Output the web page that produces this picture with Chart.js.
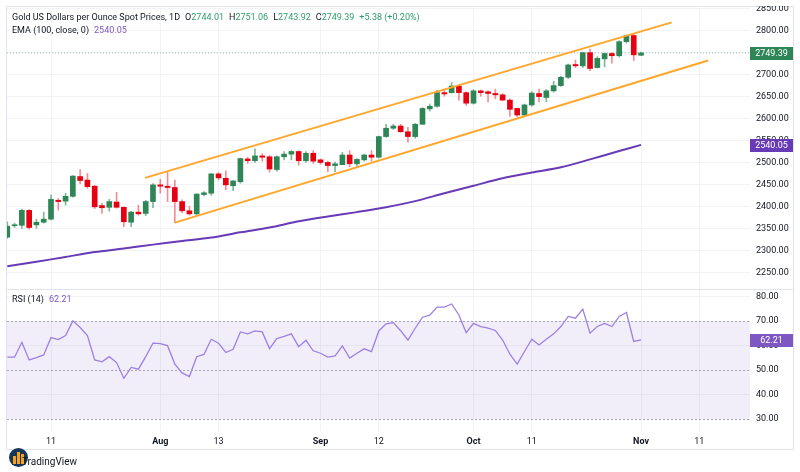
<!DOCTYPE html>
<html>
<head>
<meta charset="utf-8">
<script src="https://cdn.jsdelivr.net/npm/chart.js@4.4.1/dist/chart.umd.min.js"></script>
<style>
  body { margin: 0; background: #fff; font-family: Roboto, sans-serif; }
  #wrap { position: relative; width: 800px; height: 472px; overflow: hidden; }
  #frame { position: absolute; left: 6px; top: 6px; width: 786px; height: 442px; border: 1px solid #e0e3eb; }
  #sep { position: absolute; left: 6px; top: 289px; width: 787px; height: 1px; background: #e0e3eb; }
  canvas { position: absolute; left: 0; }
  #priceChart { top: 6px; }
  #rsiChart { top: 289px; }
  .hdr { position: absolute; left: 12px; font-size: 9px; color: #131722; white-space: nowrap; }
  .g { color: #2e9e6a; }
  .p { color: #7e57c2; }
  .gap { margin-left: 5px; }
  #logo { position: absolute; left: 9px; top: 448px; width: 19px; height: 19px; border-radius: 50%; background: #14375c; overflow: hidden; }
  #logo i { position: absolute; bottom: 3px; width: 3px; background: #f7a21b; }
  #tv { position: absolute; left: 22px; top: 456px; font-size: 10px; color: #131722; }
</style>
</head>
<body>
<div id="wrap">
  <div id="frame"></div>
  <canvas id="priceChart" width="800" height="283"></canvas>
  <canvas id="rsiChart" width="800" height="160"></canvas>
  <div id="sep"></div>
  <div class="hdr" style="top:12px">Gold US Dollars per Ounce Spot Prices, 1D<span class="gap">O</span><span class="g">2744.01</span><span class="gap">H</span><span class="g">2751.06</span><span class="gap">L</span><span class="g">2743.92</span><span class="gap">C</span><span class="g">2749.39</span><span class="g gap">+5.38 (+0.20%)</span></div>
  <div class="hdr" style="top:25px">EMA (100, close, 0)<span class="p gap">2540.05</span></div>
  <div class="hdr" style="top:294px">RSI (14)<span class="p gap">62.21</span></div>
  <div id="logo"><i style="left:4px;height:8px"></i><i style="left:8px;height:12px"></i><i style="left:12px;height:10px"></i></div>
  <div id="tv">TradingView</div>
</div>
<script>
// daily candles, bar 0 = early July, bar 87 = Nov 1
const opens = [2330,2356,2357,2391,2358,2364,2371,2414,2412,2423,
  2468,2460,2446,2402,2398,2410,2398,2364,2387,2384,
  2411,2449,2446,2443,2411,2390,2383,2427,2430,2474,
  2464,2447,2456,2508,2504,2515,2513,2484,2513,2519,
  2525,2504,2521,2506,2500,2493,2495,2517,2497,2506,
  2517,2512,2559,2578,2583,2570,2559,2587,2622,2628,
  2659,2659,2674,2659,2635,2663,2661,2657,2654,2642,
  2623,2608,2631,2657,2648,2663,2675,2694,2723,2720,
  2750,2716,2736,2748,2743,2775,2789,2744.01];
const closes = [2355,2358,2391,2352,2364,2371,2416,2411,2423,2469,
  2459,2445,2399,2397,2411,2398,2365,2387,2383,2411,
  2449,2446,2443,2411,2390,2383,2428,2431,2474,2465,
  2449,2458,2509,2504,2515,2512,2485,2513,2519,2525,
  2504,2521,2503,2500,2493,2497,2517,2497,2507,2517,
  2512,2559,2578,2583,2570,2559,2587,2623,2628,2659,
  2656,2674,2659,2635,2663,2659,2657,2654,2642,2621,
  2608,2631,2658,2650,2663,2675,2694,2722,2720,2750,
  2714,2737,2748,2743,2775,2789,2745,2749.39];
const highs = [2365,2362,2394,2393,2371,2387,2426,2418,2430,2470,
  2484,2475,2448,2407,2416,2432,2399,2389,2403,2414,
  2452,2462,2479,2460,2415,2400,2429,2434,2475,2477,
  2481,2459,2510,2512,2531,2520,2516,2515,2525,2527,
  2527,2525,2527,2508,2503,2501,2523,2527,2509,2519,
  2527,2560,2587,2587,2587,2580,2589,2625,2633,2664,
  2666,2682,2676,2661,2666,2665,2663,2667,2657,2645,
  2624,2633,2661,2667,2666,2685,2696,2724,2733,2751,
  2758,2741,2749,2750,2777,2790,2792,2751.06];
const lows = [2327,2352,2350,2348,2350,2362,2369,2392,2403,2421,
  2452,2441,2395,2384,2389,2396,2354,2354,2380,2379,
  2397,2430,2411,2363,2386,2380,2381,2424,2425,2460,
  2438,2436,2453,2498,2500,2503,2478,2480,2506,2506,
  2494,2500,2498,2496,2479,2479,2495,2490,2491,2503,
  2503,2510,2557,2575,2569,2546,2555,2586,2617,2626,
  2651,2658,2642,2630,2633,2651,2638,2645,2641,2605,
  2604,2606,2628,2638,2638,2660,2673,2691,2716,2716,
  2709,2715,2718,2726,2740,2772,2732,2743.92];

// EMA 100 read at a few bars
const emaIdx = [0,4,8,12,16,20,24,28,32,36,40,44,48,52,56,60,64,68,72,76,80,84,87];
const emaVal = [2264,2274,2285,2296,2304,2313,2321,2329,2341,2352,2366,2377,2387,2398,2412,2430,2447,2464,2477,2489,2507,2526,2540.05];

// channel lines (bar index, price)
const chanUpX = [18.9, 91.2];
const chanUpY = [2465, 2819];
const chanLoX = [23, 96.2];
const chanLoY = [2363, 2732];

const rsiVals = [55.2,55.2,61.3,54.1,55.0,56.1,63.2,62.4,64.0,70.0,
  67.3,64.0,54.1,53.3,55.4,53.0,46.6,51.0,50.3,55.4,
  60.9,60.7,59.9,52.4,48.8,47.3,55.4,56.3,62.5,60.9,
  57.1,58.4,65.5,64.7,65.9,65.5,58.7,62.8,63.7,64.7,
  59.5,62.1,57.8,56.8,55.2,55.7,59.8,54.8,56.8,58.6,
  57.5,65.9,68.8,69.3,66.0,62.2,67.0,71.5,72.3,75.6,
  75.6,76.9,72.4,65.2,69.0,67.7,67.0,66.1,62.2,56.4,
  52.4,57.5,62.5,60.2,62.5,64.7,67.7,71.8,71.1,74.8,
  65.0,67.7,69.0,67.7,71.8,73.4,61.6,62.21];
const rsiLevels = [70, 50, 30];

// axis ticks
const tickIdx = [6, 21, 29, 43, 51, 64, 72, 87, 95];
const tickText = ['11', 'Aug', '13', 'Sep', '12', 'Oct', '11', 'Nov', '11'];
const priceTicks = [2250, 2300, 2350, 2400, 2450, 2500, 2550, 2600, 2650, 2700, 2750, 2800, 2850];
const rsiTicks = [30, 40, 50, 60, 70, 80];

const lastPrice = 2749.39;
const lastEma = 2540.05;
const lastRsi = 62.21;

const UP = '#2e8555';
const DOWN = '#e60012';
const GRID = '#f2f3f6';
const TXT = '#131722';
const FONT = 'Roboto';
const xMin = -0.041, xMax = 101.96;

function xScale(showTicks) {
    return {
        type: 'linear', min: xMin, max: xMax, offset: false,
        grid: { color: GRID, drawTicks: false, offset: false },
        border: { display: false },
        ticks: {
            display: showTicks, autoSkip: false, maxRotation: 0, padding: 5, color: TXT,
            font: ctx => ({ family: FONT, size: 9, weight: /^[A-Z]/.test(tickText[ctx.index] || '') ? 'bold' : 'normal' }),
            callback: v => tickText[tickIdx.indexOf(v)]
        },
        afterBuildTicks: s => { s.ticks = tickIdx.map(v => ({ value: v })); },
        afterFit: s => {
            s.height = showTicks ? 18 : 0;
            s.paddingLeft = 0; s.paddingRight = 0;
        }
    };
}

function yFit(s) {
    s.width = 43;
    s.paddingTop = 0;
    s.paddingBottom = 0;
}

function badge(ctx, y, text, color) {
    ctx.save();
    ctx.fillStyle = color;
    ctx.fillRect(750, Math.round(y) - 6, 43, 13);
    ctx.fillStyle = '#fff';
    ctx.font = '9px ' + FONT;
    ctx.textAlign = 'center';
    ctx.textBaseline = 'middle';
    ctx.fillText(text, 771.5, Math.round(y) + 0.5);
    ctx.restore();
}

const priceExtras = {
    id: 'priceExtras',
    beforeDatasetsDraw(chart) {
        const { ctx, chartArea, scales } = chart;
        const y = scales.y.getPixelForValue(lastPrice);
        ctx.save();
        ctx.strokeStyle = 'rgba(46,133,85,0.45)';
        ctx.setLineDash([1, 2]);
        ctx.beginPath();
        ctx.moveTo(chartArea.left, y);
        ctx.lineTo(chartArea.right, y);
        ctx.stroke();
        ctx.restore();
    },
    afterDraw(chart) {
        const s = chart.scales.y;
        badge(chart.ctx, s.getPixelForValue(lastPrice), lastPrice.toFixed(2), UP);
        badge(chart.ctx, s.getPixelForValue(lastEma), lastEma.toFixed(2), '#673ab7');
    }
};

const bars = opens.map((o, i) => i);

new Chart(document.getElementById('priceChart'), {
    data: {
        datasets: [
            {
                type: 'line', data: chanUpX.map((x, i) => ({ x: x, y: chanUpY[i] })),
                borderColor: '#ffa62b', borderWidth: 2, pointRadius: 0, order: 1
            },
            {
                type: 'line', data: chanLoX.map((x, i) => ({ x: x, y: chanLoY[i] })),
                borderColor: '#ffa62b', borderWidth: 2, pointRadius: 0, order: 1
            },
            {
                type: 'line', data: emaIdx.map((x, i) => ({ x: x, y: emaVal[i] })),
                borderColor: '#673ab7', borderWidth: 2, pointRadius: 0, tension: 0.3, order: 1
            },
            {
                type: 'bar', data: bars.map(i => ({ x: i, y: [lows[i], highs[i]] })),
                backgroundColor: bars.map(i => closes[i] >= opens[i] ? 'rgba(46,133,85,0.6)' : 'rgba(230,0,18,0.45)'),
                barThickness: 1, grouped: false, order: 4
            },
            {
                type: 'bar', data: bars.map(i => ({ x: i, y: [opens[i], closes[i]] })),
                backgroundColor: bars.map(i => closes[i] >= opens[i] ? UP : DOWN),
                barThickness: 5, minBarLength: 1, grouped: false, order: 3
            }
        ]
    },
    options: {
        responsive: false, animation: false,
        layout: { padding: { left: 7, right: 7, top: 0, bottom: 0 } },
        plugins: { legend: { display: false }, tooltip: { enabled: false } },
        scales: {
            x: xScale(false),
            y: {
                position: 'right', min: 2212, max: 2856.2,
                grid: { color: GRID, drawTicks: false },
                border: { display: false },
                ticks: { padding: 6, color: TXT, font: { family: FONT, size: 9 }, callback: v => v.toFixed(2) },
                afterBuildTicks: s => { s.ticks = priceTicks.map(v => ({ value: v })); },
                afterFit: yFit
            }
        }
    },
    plugins: [priceExtras]
});

const rsiExtras = {
    id: 'rsiExtras',
    beforeDatasetsDraw(chart) {
        const { ctx, chartArea, scales } = chart;
        const yTop = scales.y.getPixelForValue(rsiLevels[0]);
        const yBot = scales.y.getPixelForValue(rsiLevels[2]);
        ctx.save();
        ctx.fillStyle = 'rgba(126,87,194,0.1)';
        ctx.fillRect(chartArea.left, yTop, chartArea.right - chartArea.left, yBot - yTop);
        ctx.strokeStyle = '#a3a6af';
        ctx.lineWidth = 1;
        ctx.setLineDash([2, 2]);
        rsiLevels.forEach(v => {
            const y = Math.round(scales.y.getPixelForValue(v)) + 0.5;
            ctx.beginPath();
            ctx.moveTo(chartArea.left, y);
            ctx.lineTo(chartArea.right, y);
            ctx.stroke();
        });
        ctx.restore();
    },
    afterDraw(chart) {
        badge(chart.ctx, chart.scales.y.getPixelForValue(lastRsi), lastRsi.toFixed(2), '#7e57c2');
    }
};

new Chart(document.getElementById('rsiChart'), {
    type: 'line',
    data: {
        datasets: [{
            data: rsiVals.map((v, i) => ({ x: i, y: v })),
            borderColor: '#9d80e3', borderWidth: 1.3, pointRadius: 0, tension: 0
        }]
    },
    options: {
        responsive: false, animation: false,
        layout: { padding: { left: 7, right: 7, top: 0, bottom: 0 } },
        plugins: { legend: { display: false }, tooltip: { enabled: false } },
        scales: {
            x: xScale(true),
            y: {
                position: 'right', min: 25.1, max: 83,
                grid: { color: ctx => rsiLevels.includes(ctx.tick.value) ? 'rgba(0,0,0,0)' : GRID, drawTicks: false },
                border: { display: false },
                ticks: { padding: 6, color: TXT, font: { family: FONT, size: 9 }, callback: v => v.toFixed(2) },
                afterBuildTicks: s => { s.ticks = rsiTicks.map(v => ({ value: v })); },
                afterFit: yFit
            }
        }
    },
    plugins: [rsiExtras]
});
</script>
</body>
</html>
